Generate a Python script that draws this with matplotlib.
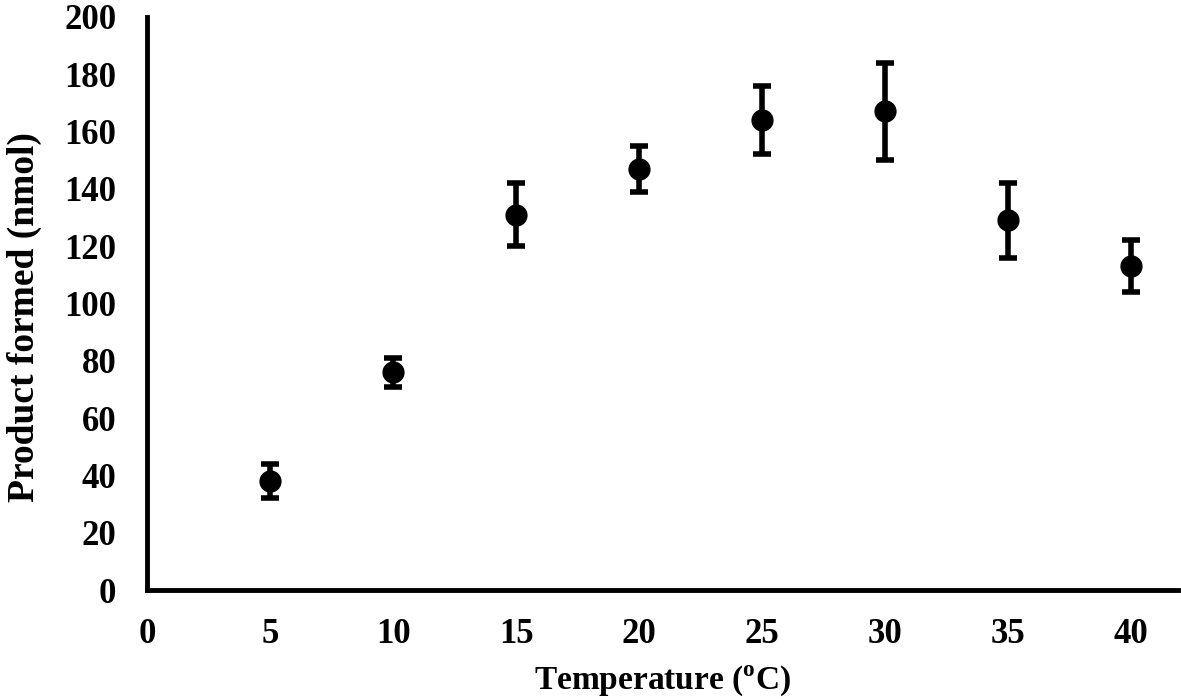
import numpy as np
import matplotlib
matplotlib.use("Agg")
import matplotlib.pyplot as plt

plt.rcParams['font.family'] = ['Liberation Serif', 'DejaVu Serif']
plt.rcParams['font.weight'] = 'bold'

# data
temperature = [5, 10, 15, 20, 25, 30, 35, 40]
product = [38, 76, 131, 147, 164, 167, 129, 113]
error = [6, 5, 11, 8, 12, 17, 13, 9]

fig = plt.figure(figsize=(11.81, 7.0), dpi=100)
ax = fig.add_axes([0.1245, 0.157, 0.873, 0.819])

ax.errorbar(temperature, product, yerr=error, fmt='o', color='black',
            markersize=15, elinewidth=4, capsize=6.5, capthick=4)

ax.set_xlim(0, 41.9)
ax.set_ylim(0, 200)
ax.set_xticks(np.arange(0, 41, 5))
ax.set_yticks(np.arange(0, 201, 20))

for side in ['top', 'right']:
    ax.spines[side].set_visible(False)
for side in ['left', 'bottom']:
    ax.spines[side].set_linewidth(3.5)

ax.tick_params(length=0, labelsize=25)
ax.tick_params(axis='y', pad=22)
ax.tick_params(axis='x', pad=20)
for lab in ax.get_xticklabels() + ax.get_yticklabels():
    lab.set_fontweight('bold')

ax.set_xlabel(r'Temperature ($^{\mathregular{o}}$C)', fontsize=24, fontweight='bold', va='center')
ax.set_ylabel('Product formed (nmol)', fontsize=27, fontweight='bold', va='center')
ax.xaxis.set_label_coords(0.5, -0.157)
ax.yaxis.set_label_coords(-0.119, 0.477)

fig.savefig('out.png', dpi=100)
